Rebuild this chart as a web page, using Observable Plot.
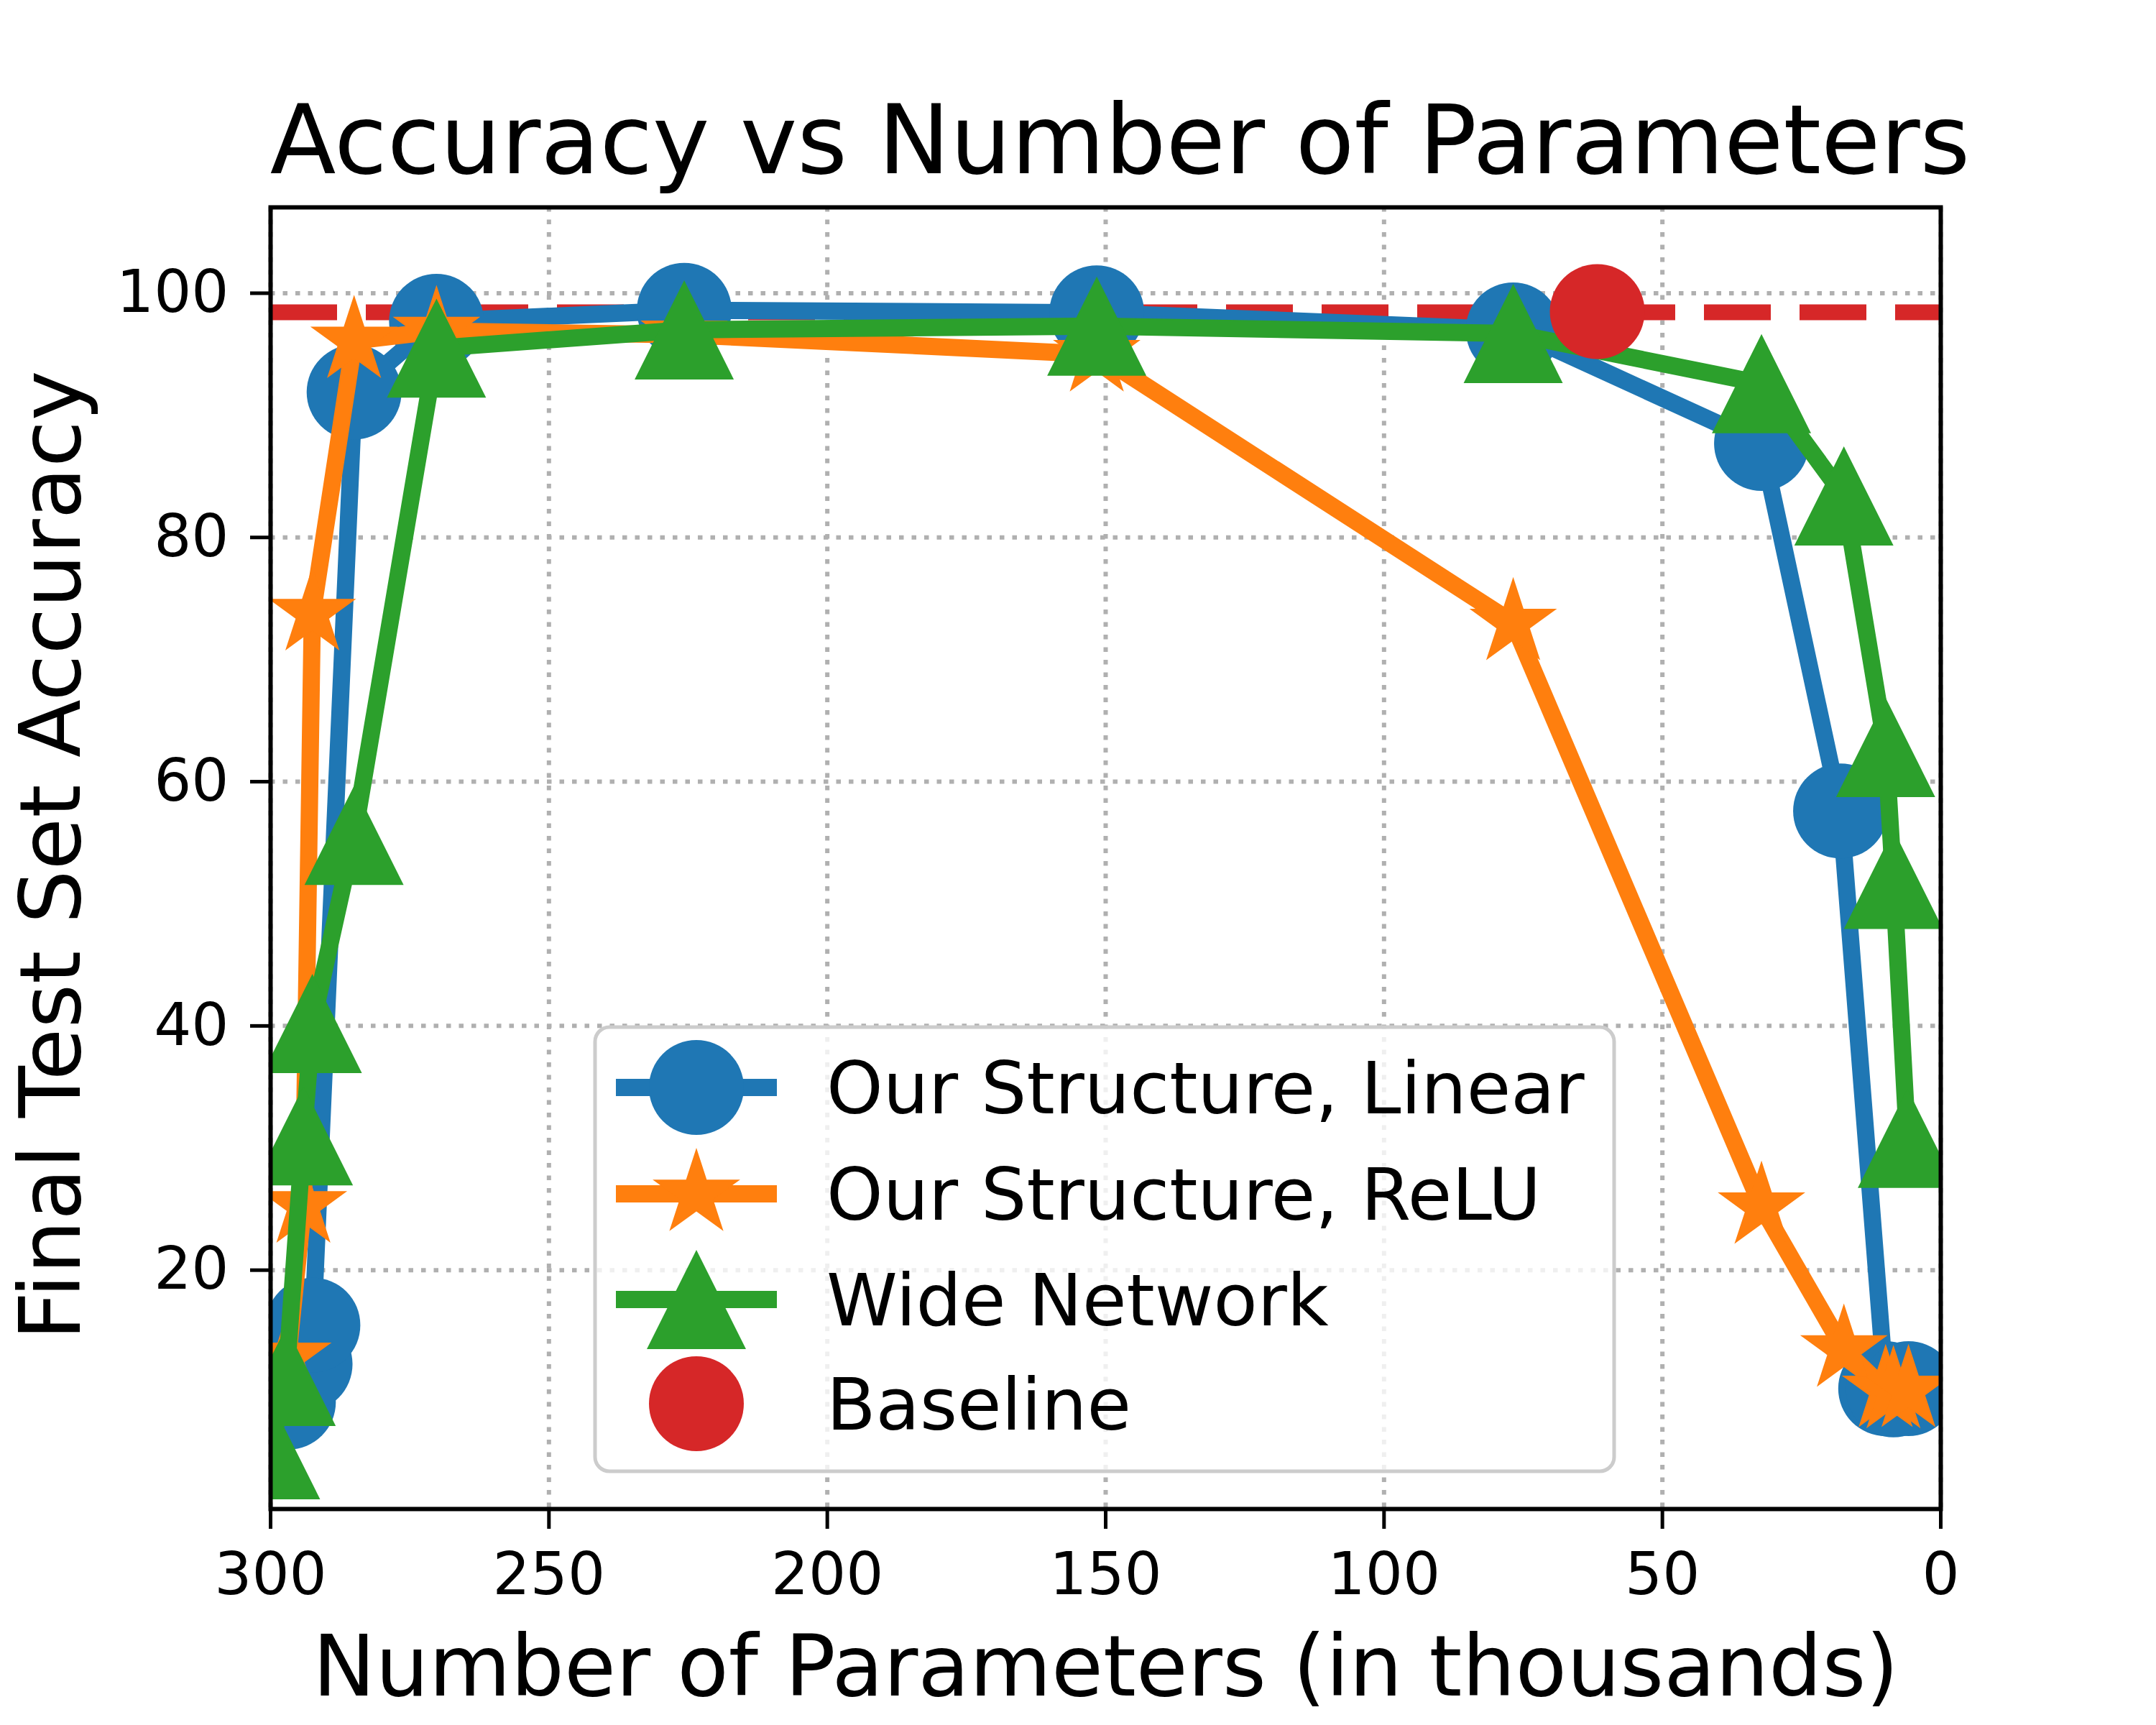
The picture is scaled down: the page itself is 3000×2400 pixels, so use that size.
<!DOCTYPE html>
<html>
<head>
<meta charset="utf-8">
<script src="https://cdn.jsdelivr.net/npm/d3@7"></script>
<script src="https://cdn.jsdelivr.net/npm/@observablehq/plot@0.6"></script>
<style>
  html, body { margin: 0; padding: 0; background: #ffffff; }
  #chart { width: 3000px; height: 2400px; }
</style>
</head>
<body>
<div id="chart"></div>
<script>
// ---- data ----
const seriesNames = ["Our Structure, Linear", "Our Structure, ReLU", "Wide Network", "Baseline"];
const seriesColors = ["#1f77b4", "#ff7f0e", "#2ca02c", "#d62728"];

const linearX = [296.8, 293.8, 292.4, 285.0, 270.2, 225.7, 151.6, 76.8, 32.2, 18.0, 9.9, 8.5, 5.8];
const linearY = [9.2, 12.3, 15.5, 91.9, 97.7, 98.6, 98.4, 97.0, 87.7, 57.6, 10.3, 10.2, 10.3];

const reluX = [296.9, 294.1, 292.5, 285.0, 270.2, 225.7, 151.6, 76.8, 32.2, 17.4, 9.9, 8.5, 5.8];
const reluY = [12.9, 25.3, 73.8, 96.1, 96.9, 96.6, 95.0, 73.0, 25.2, 13.5, 10.2, 10.1, 10.2];

const wideX = [300.0, 297.2, 294.1, 292.5, 285.0, 270.2, 225.7, 151.6, 76.8, 32.2, 17.4, 9.9, 8.5, 6.0];
const wideY = [5.3, 11.3, 31.0, 40.2, 55.6, 95.5, 97.0, 97.3, 96.7, 92.6, 83.4, 62.8, 52.0, 30.8];

const baselineX = [61.7];
const baselineY = [98.5];
const baselineLevel = [98.44];

const xTicks = [300, 250, 200, 150, 100, 50, 0];
const yTicks = [20, 40, 60, 80, 100];
const xDomain = [300, 0];
const yDomain = [0.44, 107.03];

const titleText = "Accuracy vs Number of Parameters";
const xLabelText = "Number of Parameters (in thousands)";
const yLabelText = "Final Test Set Accuracy";

// ---- matplotlib-like marker symbols ----
const circleSym = {draw(ctx, size) {
  const r = Math.sqrt(size / Math.PI);
  ctx.moveTo(r, 0); ctx.arc(0, 0, r, 0, 2 * Math.PI); ctx.closePath();
}};
const triSym = {draw(ctx, size) {
  const h = Math.sqrt(size / Math.PI) * 1.045;
  ctx.moveTo(0, -h); ctx.lineTo(h, h); ctx.lineTo(-h, h); ctx.closePath();
}};
const starSym = {draw(ctx, size) {
  const R = Math.sqrt(size / Math.PI) * 0.97, r = R * 0.381966;
  for (let i = 0; i < 10; i++) {
    const a = Math.PI / 2 + i * Math.PI / 5, rad = i % 2 ? r : R;
    const x = rad * Math.cos(a), y = -rad * Math.sin(a);
    if (i) ctx.lineTo(x, y); else ctx.moveTo(x, y);
  }
  ctx.closePath();
}};
const symbols = [circleSym, starSym, triSym, circleSym];

const rows = (xs, ys) => xs.map((x, i) => ({x, y: ys[i]}));
const linear = rows(linearX, linearY);
const relu = rows(reluX, reluY);
const wide = rows(wideX, wideY);
const baseline = rows(baselineX, baselineY);

const LW = 24, MR = 66;
const gridStyle = {stroke: "#b0b0b0", strokeOpacity: 1, strokeWidth: 6, strokeDasharray: "6.5,11"};

function series(data, k) {
  return [
    Plot.line(data, {x: "x", y: "y", stroke: seriesColors[k], strokeWidth: LW, strokeLinejoin: "round", strokeLinecap: "square", clip: true}),
    Plot.dot(data, {x: "x", y: "y", r: MR, symbol: symbols[k], fill: seriesColors[k], stroke: null, clip: true})
  ];
}

const chart = Plot.plot({
  width: 3000,
  height: 2400,
  marginLeft: 376,
  marginRight: 300,
  marginTop: 288,
  marginBottom: 301,
  x: {domain: xDomain},
  y: {domain: yDomain},
  style: {fontFamily: "DejaVu Sans", background: "white", color: "black", overflow: "visible"},
  marks: [
    Plot.gridX(xTicks, gridStyle),
    Plot.gridY(yTicks, gridStyle),
    Plot.ruleY(baselineLevel, {stroke: seriesColors[3], strokeWidth: 22, strokeDasharray: "93,40", clip: true}),
    ...series(linear, 0),
    ...series(relu, 1),
    ...series(wide, 2),
    Plot.dot(baseline, {x: "x", y: "y", r: MR, symbol: circleSym, fill: seriesColors[3], stroke: null, clip: true}),
    Plot.axisX(xTicks, {tickSize: 28, tickPadding: 32, fontSize: 82, strokeWidth: 5, label: null}),
    Plot.axisY(yTicks, {tickSize: 28, tickPadding: 30, fontSize: 82, strokeWidth: 5, label: null}),
    Plot.frame({stroke: "black", strokeWidth: 6}),
    Plot.text([titleText], {frameAnchor: "top", textAnchor: "middle", lineAnchor: "bottom", dx: 20, dy: -48, fontSize: 134, fill: "black"}),
    Plot.text([xLabelText], {frameAnchor: "bottom", textAnchor: "middle", lineAnchor: "bottom", dy: 259, fontSize: 117, fill: "black"}),
    Plot.text([yLabelText], {frameAnchor: "left", textAnchor: "middle", lineAnchor: "bottom", rotate: -90, dx: -266, dy: -4, fontSize: 118, fill: "black"})
  ]
});

document.getElementById("chart").appendChild(chart);

// ---- legend (layout overlay) ----
const svg = d3.select(chart);
const lg = svg.append("g").attr("font-family", "DejaVu Sans").attr("text-anchor", "start");
lg.append("rect")
  .attr("x", 828).attr("y", 1429).attr("width", 1418).attr("height", 618).attr("rx", 20)
  .attr("fill", "white").attr("fill-opacity", 0.8)
  .attr("stroke", "#cccccc").attr("stroke-width", 5);
const rowY = [1513, 1661, 1808, 1953];
seriesNames.forEach((name, k) => {
  const cy = rowY[k];
  if (k < 3) {
    lg.append("line").attr("x1", 857).attr("x2", 1081).attr("y1", cy).attr("y2", cy)
      .attr("stroke", seriesColors[k]).attr("stroke-width", LW);
  }
  lg.append("path")
    .attr("transform", `translate(969,${cy})`)
    .attr("d", d3.symbol().type(symbols[k]).size(MR * MR * Math.PI)())
    .attr("fill", seriesColors[k]);
  lg.append("text").attr("x", 1150).attr("y", cy + 36)
    .attr("text-anchor", "start")
    .attr("font-size", 100).attr("fill", "black").text(name);
});
</script>
</body>
</html>
